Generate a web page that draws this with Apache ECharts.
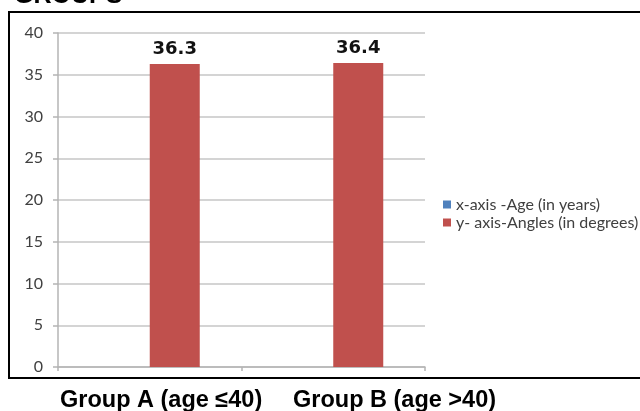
<!DOCTYPE html>
<html>
<head>
<meta charset="utf-8">
<script src="https://cdn.jsdelivr.net/npm/echarts@6/dist/echarts.min.js"></script>
<style>
  html, body { margin: 0; padding: 0; background: #ffffff; }
  #chart { width: 640px; height: 411px; }
</style>
</head>
<body>
<div id="chart"></div>
<script>
// Group captions shown under the frame
const categories = ['Group A (age \u226440)', 'Group B (age >40)'];
// Series names (legend entries)
const ageSeriesName = 'x-axis -Age (in years)';
const angleSeriesName = 'y- axis-Angles (in degrees)';
// Values per group
const ageValues = [0, 0];
const angleValues = [36.3, 36.4];
// Y axis scale
const yMin = 0;
const yMax = 40;
const yStep = 5;

const chart = echarts.init(document.getElementById('chart'), null, { renderer: 'canvas' });

const gridColor = '#c6c6c6';
const axisColor = '#b4b4b4';

chart.setOption({
  animation: false,
  backgroundColor: '#ffffff',
  grid: { left: 58, right: 215, top: 33, bottom: 44, containLabel: false },
  legend: {
    orient: 'vertical',
    left: 438,
    top: 191,
    icon: 'rect',
    itemWidth: 8,
    itemHeight: 8,
    itemGap: 1,
    textStyle: { fontFamily: 'Lato', fontSize: 16, color: '#404040', lineHeight: 17 },
    data: [ageSeriesName, angleSeriesName]
  },
  xAxis: {
    type: 'category',
    data: categories,
    boundaryGap: true,
    axisLine: { show: true, lineStyle: { color: axisColor, width: 1.5 } },
    axisTick: { show: true, length: 4, lineStyle: { color: axisColor, width: 1.5 } },
    axisLabel: { show: false },
    splitLine: { show: false }
  },
  yAxis: {
    type: 'value',
    min: yMin,
    max: yMax,
    interval: yStep,
    axisLine: { show: true, lineStyle: { color: axisColor, width: 1.5 } },
    axisTick: { show: true, length: 5, lineStyle: { color: axisColor, width: 1.5 } },
    axisLabel: { fontFamily: 'Lato', fontSize: 16, color: '#404040', margin: 15 },
    splitLine: { show: true, lineStyle: { color: gridColor, width: 1.5 } }
  },
  series: [
    {
      name: ageSeriesName,
      type: 'bar',
      data: ageValues,
      barWidth: 50,
      barGap: '0%',
      itemStyle: { color: '#4f81bd' }
    },
    {
      name: angleSeriesName,
      type: 'bar',
      data: angleValues,
      barWidth: 50,
      barGap: '0%',
      itemStyle: { color: '#c0504d' },
      label: {
        show: true,
        position: 'top',
        distance: 6,
        fontFamily: 'DejaVu Sans',
        fontWeight: 'bold',
        fontSize: 18,
        color: '#111111'
      }
    }
  ],
  graphic: [
    {
      type: 'text',
      left: 14,
      top: -16,
      style: { text: 'GROUPS', font: 'bold 25px "Liberation Sans", Arial, sans-serif', fill: '#000000' }
    },
    {
      type: 'rect',
      shape: { x: 9, y: 12, width: 640, height: 366 },
      style: { fill: 'none', stroke: '#000000', lineWidth: 2 },
      z: 10
    },
    {
      type: 'text',
      left: 60,
      top: 389,
      style: { text: categories[0], font: 'bold 23.5px "Liberation Sans", Arial, sans-serif', fill: '#000000' }
    },
    {
      type: 'text',
      left: 293,
      top: 389,
      style: { text: categories[1], font: 'bold 23.5px "Liberation Sans", Arial, sans-serif', fill: '#000000' }
    }
  ]
});
</script>
</body>
</html>
